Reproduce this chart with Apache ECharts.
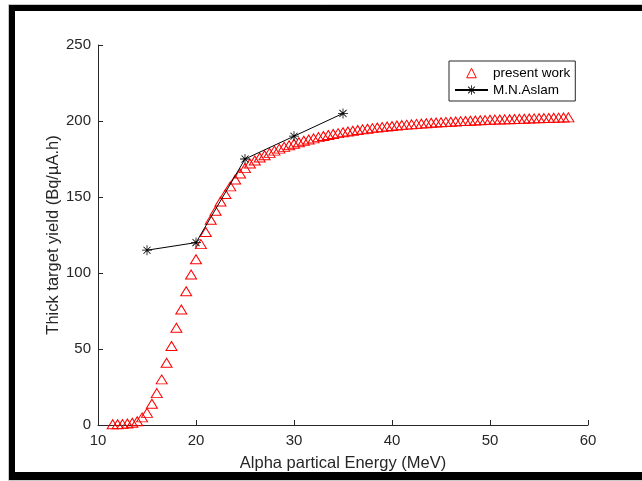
<!DOCTYPE html>
<html><head><meta charset="utf-8">
<script src="https://cdn.jsdelivr.net/npm/echarts@6/dist/echarts.min.js"></script>
<style>html,body{margin:0;padding:0;background:#fff}#c{width:642px;height:481px}</style>
</head><body><div id="c"></div>
<script>
const presentEnergy = [11.5,12,12.5,13,13.5,14,14.5,15,15.5,16,16.5,17,17.5,18,18.5,19,19.5,20,
  20.5,21,21.5,22,22.5,23,23.5,24,24.5,25,25.5,26,26.5,27,27.5,28,28.5,29,29.5,30,
  30.5,31,31.5,32,32.5,33,33.5,34,34.5,35,35.5,36,36.5,37,37.5,38,38.5,39,39.5,40,
  40.5,41,41.5,42,42.5,43,43.5,44,44.5,45,45.5,46,46.5,47,47.5,48,48.5,49,49.5,50,
  50.5,51,51.5,52,52.5,53,53.5,54,54.5,55,55.5,56,56.5,57,57.5,58];
const presentYield = [0.5,0.5,0.6,1,1.5,2.5,5,8,14,21,30,41,52,64,76,88,99,109,
  119,127,135,141,147,152,157,161.5,165.5,169,172,174,176,177.5,179,180.5,181.8,183,184,185,
  186,187,187.8,188.6,189.4,190.1,190.8,191.4,192,192.6,193.1,193.6,194.1,194.5,194.9,195.3,195.7,196,196.4,196.7,
  197,197.3,197.6,197.8,198.1,198.3,198.5,198.8,199,199.2,199.4,199.5,199.7,199.9,200,200.2,200.3,200.5,200.6,200.8,
  200.9,201,201.1,201.2,201.3,201.4,201.5,201.6,201.7,201.8,201.9,202,202.1,202.2,202.3,202.4];
const aslamEnergy = [15,20,25,30,35];
const aslamYield = [115,120,175,190,205];
const seriesNames = ['present work','M.N.Aslam'];
const xTitle = 'Alpha partical Energy (MeV)';
const yTitle = 'Thick target yield (Bq/µA.h)';

const FONT = 'Arial, "Liberation Sans", sans-serif';
const AX = '#262626';
const starPath = 'path://M9.2 0H10.8V20H9.2Z M0 9.2H20V10.8H0Z M3.5 2.36L17.64 16.5L16.5 17.64L2.36 3.5Z M16.5 2.36L17.64 3.5L3.5 17.64L2.36 16.5Z';

const chart = echarts.init(document.getElementById('c'), null, {renderer:'canvas'});
chart.setOption({
  animation:false,
  backgroundColor:'#fff',
  grid:{left:98, right:54, top:45, bottom:56, containLabel:false, outerBoundsMode:'none'},
  xAxis:{type:'value', min:10, max:60, interval:10,
    axisLine:{show:true, lineStyle:{color:AX, width:1}},
    axisTick:{show:true, inside:true, length:5, lineStyle:{color:AX, width:1}},
    axisLabel:{color:AX, fontSize:15, margin:8, fontFamily:FONT},
    splitLine:{show:false},
    name:xTitle, nameLocation:'middle', nameGap:30, nameMoveOverlap:false,
    nameTextStyle:{color:AX, fontSize:16.5, fontFamily:FONT}},
  yAxis:{type:'value', min:0, max:250, interval:50,
    axisLine:{show:true, lineStyle:{color:AX, width:1}},
    axisTick:{show:true, inside:true, length:5, lineStyle:{color:AX, width:1}},
    axisLabel:{color:AX, fontSize:15, margin:7, fontFamily:FONT},
    splitLine:{show:false},
    name:yTitle, nameLocation:'middle', nameGap:36, nameMoveOverlap:false,
    nameTextStyle:{color:AX, fontSize:16.5, fontFamily:FONT}},
  legend:{left:449, top:61, orient:'vertical', itemWidth:33, itemHeight:12, itemGap:3,
    padding:[5,5,4,5], borderColor:AX, borderWidth:1, backgroundColor:'#fff',
    textStyle:{fontSize:13.5, color:'#000', fontFamily:FONT},
    data:[
      {name:seriesNames[0], itemStyle:{color:'rgba(255,0,0,0)', borderColor:'#ff0000', borderWidth:1}},
      {name:seriesNames[1]}
    ]},
  series:[
    {name:seriesNames[0], type:'line', data:presentEnergy.map((e,i)=>[e,presentYield[i]]),
      symbol:'triangle', symbolSize:[11,9], showSymbol:true, showAllSymbol:true,
      itemStyle:{color:'rgba(255,0,0,0)', borderColor:'#ff0000', borderWidth:1},
      lineStyle:{color:'rgba(255,0,0,0)', width:0},
      emphasis:{disabled:true}, z:2},
    {name:seriesNames[1], type:'line', data:aslamEnergy.map((e,i)=>[e,aslamYield[i]]),
      symbol:starPath, symbolSize:10, showSymbol:true,
      itemStyle:{color:'#000'}, lineStyle:{color:'#000', width:1},
      emphasis:{disabled:true}, z:3}
  ],
  graphic:[
    {type:'rect', silent:true, shape:{x:8.5,y:4.5,width:700,height:476}, style:{fill:'none', stroke:'#c8c8c8', lineWidth:1}},
    {type:'rect', silent:true, shape:{x:9,y:5,width:640,height:6}, style:{fill:'#000'}},
    {type:'rect', silent:true, shape:{x:9,y:5,width:6,height:475}, style:{fill:'#000'}},
    {type:'rect', silent:true, shape:{x:9,y:472,width:640,height:8}, style:{fill:'#000'}}
  ]
});
</script></body></html>
